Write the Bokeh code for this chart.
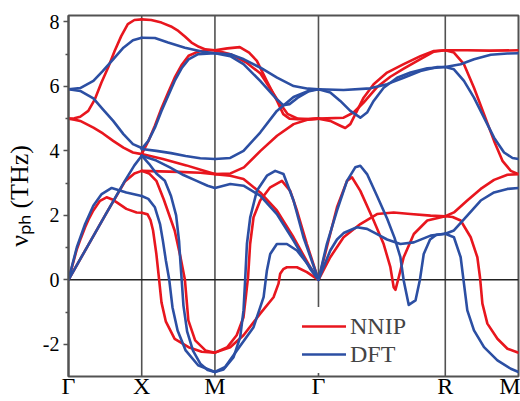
from bokeh.plotting import figure
from bokeh.models import (Span, Legend, LegendItem, FixedTicker, Range1d,
                          CustomJSTickFormatter)
from bokeh.embed import file_html
from bokeh.resources import INLINE

# high-symmetry path (reciprocal-space distance) and labels
K_PTS = [0.0, 0.5, 1.0, 1.7071, 2.5731, 3.0731]
K_LABELS = ["Γ", "X", "M", "Γ", "R", "M"]

# Each band: (fraction along the segment, frequency in THz)
# ---------------- NNIP ----------------
NNIP_GX = [
    ([0, 0.08, 0.16, 0.27, 0.36, 0.45, 0.54, 0.63, 0.72, 0.81, 0.9, 1],
     [5.0, 5.01, 5.06, 5.24, 5.6, 6.12, 6.58, 7.1, 7.56, 7.93, 8.06, 8.08]),
    ([0, 0.08, 0.16, 0.34, 0.47, 0.61, 0.75, 0.88, 1],
     [5.0, 4.97, 4.93, 4.72, 4.54, 4.31, 4.1, 3.95, 3.9]),
    ([0, 0.25, 0.5, 0.77, 0.9, 1],
     [0, 1.0, 2.0, 3.05, 3.3, 3.38]),
    ([0, 0.06, 0.114, 0.17, 0.227, 0.28, 0.339, 0.43, 0.52, 0.59, 0.66, 0.79, 0.93, 1],
     [0, 0.5, 0.95, 1.3, 1.63, 1.9, 2.15, 2.45, 2.56, 2.5, 2.4, 2.2, 2.09, 2.08]),
]
NNIP_XM = [
    ([0, 0.13, 0.27, 0.4, 0.5, 0.59, 0.68, 0.78, 0.87, 1],
     [8.08, 8.06, 7.98, 7.86, 7.72, 7.55, 7.36, 7.23, 7.15, 7.12]),
    ([0, 0.09, 0.18, 0.27, 0.36, 0.45, 0.55, 0.64, 0.77, 0.88, 1],
     [3.9, 4.3, 4.78, 5.32, 5.8, 6.27, 6.68, 6.95, 7.08, 7.12, 7.12]),
    ([0, 0.29, 0.61, 0.85, 1],
     [3.9, 3.75, 3.55, 3.38, 3.28]),
    ([0, 0.5, 0.8, 1],
     [3.38, 3.35, 3.32, 3.28]),
    ([0, 0.1, 0.2, 0.3, 0.45, 0.53, 0.59, 0.637, 0.73, 0.87, 1],
     [3.38, 3.3, 3.07, 2.5, 1.53, 0.7, 0.0, -1.26, -1.88, -2.19, -2.26]),
    ([0, 0.08, 0.12, 0.155, 0.2, 0.238, 0.27, 0.33, 0.45, 0.64, 0.82, 1],
     [2.08, 2.03, 1.85, 1.53, 0.8, 0.0, -0.7, -1.3, -1.83, -2.09, -2.23, -2.26]),
]
NNIP_MG = [
    ([0, 0.12, 0.24, 0.33, 0.405, 0.5, 0.6, 0.66, 0.72, 0.8, 1],
     [7.12, 7.18, 7.22, 7.05, 6.79, 6.17, 5.55, 5.14, 5.0, 4.98, 5.0]),
    ([0, 0.15, 0.3, 0.44, 0.6, 0.7, 0.8, 0.9, 1],
     [7.12, 7.0, 6.75, 6.4, 5.6, 5.15, 5.0, 4.98, 5.0]),
    ([0, 0.15, 0.28, 0.44, 0.6, 0.76, 0.9, 1],
     [3.28, 3.3, 3.49, 4.0, 4.47, 4.83, 4.97, 5.0]),
    ([0, 0.148, 0.276, 0.437, 0.598, 0.759, 0.92, 1],
     [3.28, 3.23, 3.13, 2.71, 2.15, 1.32, 0.39, 0]),
    ([0, 0.12, 0.21, 0.276, 0.302, 0.32, 0.34, 0.373, 0.437, 0.534, 0.647, 0.727, 0.792, 0.888, 1],
     [-2.26, -2.09, -1.72, -1.16, -0.43, 0.08, 1.11, 1.94, 2.46, 2.87, 3.07, 2.76, 2.15, 1.11, 0]),
    ([0, 0.148, 0.276, 0.437, 0.566, 0.614, 0.63, 0.66, 0.695, 0.792, 0.888, 1],
     [-2.26, -2.09, -1.72, -1.05, -0.54, -0.12, 0.19, 0.33, 0.39, 0.39, 0.24, 0]),
]
NNIP_GR = [
    ([0, 0.093, 0.172, 0.211, 0.251, 0.304, 0.356, 0.435, 0.541, 0.672, 0.804, 0.91, 1],
     [5.0, 4.93, 4.78, 4.71, 4.83, 5.24, 5.65, 6.07, 6.43, 6.69, 6.94, 7.1, 7.12]),
    ([0, 0.198, 0.277, 0.356, 0.462, 0.567, 0.672, 0.804, 0.91, 1],
     [5.0, 5.03, 5.19, 5.5, 5.98, 6.3, 6.55, 6.85, 7.08, 7.12]),
    ([0, 0.066, 0.146, 0.225, 0.264, 0.33, 0.435, 0.514, 0.567, 0.593, 0.607, 0.633, 0.672, 0.752, 0.858, 1],
     [0, 1.01, 2.25, 3.07, 3.18, 2.76, 1.84, 1.11, 0.39, -0.23, -0.31, 0.08, 0.7, 1.42, 1.84, 1.97]),
    ([0, 0.093, 0.198, 0.33, 0.462, 0.593, 0.726, 0.884, 1],
     [0, 0.7, 1.32, 1.73, 2.04, 2.09, 2.04, 1.99, 1.97]),
]
NNIP_RM = [
    ([0, 0.3, 0.6, 1],
     [7.12, 7.12, 7.11, 7.12]),
    ([0, 0.118, 0.255, 0.392, 0.529, 0.666, 0.781, 0.895, 1],
     [7.12, 7.05, 6.69, 5.96, 5.14, 4.31, 3.69, 3.38, 3.28]),
    ([0, 0.118, 0.3, 0.484, 0.666, 0.849, 1],
     [1.97, 2.09, 2.46, 2.82, 3.1, 3.26, 3.28]),
    ([0, 0.1, 0.21, 0.347, 0.438, 0.474, 0.507, 0.575, 0.712, 0.849, 1],
     [1.97, 1.95, 1.84, 1.32, 0.7, 0.08, -0.74, -1.36, -1.83, -2.14, -2.26]),
]

# ---------------- DFT ----------------
DFT_GX = [
    ([0, 0.16, 0.34, 0.47, 0.61, 0.75, 0.88, 1],
     [5.91, 5.95, 6.17, 6.48, 6.84, 7.2, 7.43, 7.51]),
    ([0, 0.16, 0.34, 0.47, 0.61, 0.75, 0.88, 1],
     [5.91, 5.86, 5.63, 5.29, 4.93, 4.52, 4.21, 4.09]),
    ([0, 0.25, 0.5, 0.77, 0.9, 1],
     [0, 1.0, 2.0, 3.07, 3.55, 3.85]),
    ([0, 0.114, 0.227, 0.339, 0.453, 0.59, 0.79, 1],
     [0, 1.01, 1.73, 2.3, 2.66, 2.85, 2.71, 2.6]),
]
DFT_XM = [
    ([0, 0.18, 0.36, 0.59, 0.82, 1],
     [7.51, 7.5, 7.36, 7.2, 7.08, 7.03]),
    ([0, 0.09, 0.18, 0.27, 0.36, 0.45, 0.55, 0.64, 0.77, 1],
     [4.06, 4.31, 4.72, 5.24, 5.7, 6.17, 6.58, 6.84, 7.0, 7.03]),
    ([0, 0.2, 0.4, 0.6, 0.8, 1],
     [4.06, 4.0, 3.93, 3.84, 3.77, 3.75]),
    ([0, 0.2, 0.385, 0.57, 0.75, 0.9, 1],
     [3.85, 3.7, 3.49, 3.25, 3.07, 2.92, 2.85]),
    ([0, 0.1, 0.2, 0.316, 0.4, 0.47, 0.51, 0.53, 0.546, 0.57, 0.62, 0.7, 0.8, 0.9, 1],
     [3.85, 3.6, 3.3, 3.07, 2.6, 2.0, 1.2, 0.5, 0.0, -0.8, -1.6, -2.2, -2.6, -2.8, -2.86]),
    ([0, 0.09, 0.18, 0.25, 0.29, 0.33, 0.376, 0.42, 0.49, 0.6, 0.77, 1],
     [2.6, 2.51, 2.25, 1.73, 1.2, 0.6, 0.0, -0.85, -1.57, -2.19, -2.65, -2.86]),
]
DFT_MG = [
    ([0, 0.15, 0.28, 0.44, 0.6, 0.76, 0.9, 1],
     [7.03, 7.0, 6.84, 6.58, 6.27, 6.01, 5.93, 5.91]),
    ([0, 0.148, 0.276, 0.437, 0.598, 0.66, 0.72, 0.8, 0.9, 1],
     [7.03, 6.94, 6.69, 6.17, 5.6, 5.42, 5.45, 5.65, 5.84, 5.91]),
    ([0, 0.148, 0.276, 0.437, 0.598, 0.759, 0.92, 1],
     [3.75, 3.78, 4.0, 4.57, 5.24, 5.67, 5.88, 5.91]),
    ([0, 0.148, 0.276, 0.437, 0.598, 0.759, 0.92, 1],
     [2.85, 2.97, 2.92, 2.61, 2.04, 1.22, 0.34, 0]),
    ([0, 0.083, 0.18, 0.244, 0.276, 0.29, 0.309, 0.341, 0.405, 0.502, 0.582, 0.662, 0.759, 0.855, 1],
     [-2.86, -2.78, -2.4, -1.78, -0.95, -0.12, 1.11, 1.94, 2.76, 3.23, 3.38, 3.28, 2.46, 1.32, 0]),
    ([0, 0.1, 0.212, 0.373, 0.47, 0.502, 0.534, 0.598, 0.695, 0.792, 0.92, 1],
     [-2.86, -2.7, -2.19, -1.47, -0.54, 0.29, 0.8, 1.11, 1.11, 0.91, 0.39, 0]),
]
DFT_GR = [
    ([0, 0.198, 0.409, 0.541, 0.672, 0.804, 0.937, 1],
     [5.91, 5.89, 5.94, 6.07, 6.27, 6.48, 6.6, 6.6]),
    ([0, 0.093, 0.172, 0.251, 0.33, 0.383, 0.435, 0.514, 0.62, 0.726, 0.858, 1],
     [5.91, 5.81, 5.55, 5.24, 5.03, 5.19, 5.55, 5.96, 6.27, 6.43, 6.56, 6.6]),
    ([0, 0.066, 0.146, 0.225, 0.29, 0.33, 0.383, 0.462, 0.541, 0.6, 0.646, 0.672, 0.712, 0.765, 0.8, 0.83, 0.88, 0.93, 1],
     [0, 1.11, 2.15, 3.07, 3.49, 3.54, 3.28, 2.6, 1.9, 1.3, 0.7, -0.02, -0.78, -0.64, 0.0, 0.8, 1.25, 1.4, 1.43]),
    ([0, 0.093, 0.146, 0.198, 0.304, 0.383, 0.462, 0.541, 0.646, 0.752, 0.884, 1],
     [0, 0.91, 1.25, 1.45, 1.63, 1.58, 1.42, 1.25, 1.11, 1.16, 1.37, 1.43]),
]
DFT_RM = [
    ([0, 0.21, 0.393, 0.621, 0.849, 1],
     [6.6, 6.69, 6.84, 6.98, 7.02, 7.03]),
    ([0, 0.118, 0.255, 0.392, 0.529, 0.666, 0.803, 0.918, 1],
     [6.6, 6.53, 6.17, 5.65, 5.03, 4.41, 3.95, 3.78, 3.75]),
    ([0, 0.118, 0.3, 0.484, 0.666, 0.849, 1],
     [1.43, 1.53, 1.99, 2.46, 2.71, 2.82, 2.85]),
    ([0, 0.118, 0.21, 0.255, 0.301, 0.392, 0.529, 0.712, 0.895, 1],
     [1.43, 1.32, 0.7, -0.12, -0.95, -1.57, -2.09, -2.5, -2.76, -2.86]),
]

NNIP = [NNIP_GX, NNIP_XM, NNIP_MG, NNIP_GR, NNIP_RM]
DFT = [DFT_GX, DFT_XM, DFT_MG, DFT_GR, DFT_RM]

Y_TICKS = [-2, 0, 2, 4, 6, 8]
Y_MINOR = [-1, 1, 3, 5, 7]
Y_LO, Y_HI = -3.0, 8.2
Y_TITLE = "ν\u209a\u2095 (THz)"

RED = "#e8161e"
BLUE = "#2c4fa3"
GRAY = "#525252"
SERIF = "Liberation Serif"


def to_lines(segments):
    xs, ys = [], []
    for i, bands in enumerate(segments):
        k0, k1 = K_PTS[i], K_PTS[i + 1]
        for t, v in bands:
            xs.append([k0 + ti * (k1 - k0) for ti in t])
            ys.append(list(v))
    return xs, ys


p = figure(width=520, height=401, output_backend="svg", toolbar_location=None,
           title=None, x_range=Range1d(K_PTS[0], K_PTS[-1]), y_range=Range1d(Y_LO, Y_HI),
           min_border_left=68, min_border_right=2, min_border_top=15, min_border_bottom=25)
p.grid.visible = False
p.outline_line_color = GRAY
p.outline_line_width = 2
p.background_fill_color = "white"
p.border_fill_color = "white"

# ---- y axis ----
yax = p.yaxis[0]
yax.ticker = FixedTicker(ticks=Y_TICKS, minor_ticks=Y_MINOR)
yax.major_label_overrides = {t: str(t) for t in Y_TICKS}
yax.major_tick_out = 5
yax.major_tick_in = 0
yax.minor_tick_out = 3
yax.minor_tick_in = 0
yax.major_tick_line_color = GRAY
yax.minor_tick_line_color = GRAY
yax.major_tick_line_width = 1.5
yax.minor_tick_line_width = 1.5
yax.axis_line_color = GRAY
yax.axis_line_width = 2
yax.major_label_standoff = 4
yax.major_label_text_font = SERIF
yax.major_label_text_font_size = "20px"
yax.major_label_text_color = "black"
yax.axis_label = Y_TITLE
yax.axis_label_text_font = SERIF
yax.axis_label_text_font_size = "26px"
yax.axis_label_text_font_style = "normal"
yax.axis_label_text_color = "black"
yax.axis_label_standoff = 6

# ---- x axis: k-path labels ----
xax = p.xaxis[0]
xax.ticker = FixedTicker(ticks=K_PTS, minor_ticks=[])
xax.formatter = CustomJSTickFormatter(args=dict(kp=K_PTS, names=K_LABELS), code="""
    let best = 0;
    for (let j = 0; j < kp.length; j++) {
        if (Math.abs(kp[j] - tick) < Math.abs(kp[best] - tick)) best = j;
    }
    return names[best];
""")
xax.major_tick_out = 0
xax.major_tick_in = 0
xax.minor_tick_out = 0
xax.minor_tick_in = 0
xax.axis_line_color = None
xax.major_label_standoff = -4
xax.major_label_text_font = SERIF
xax.major_label_text_font_size = "24px"
xax.major_label_text_color = "black"

for k in K_PTS[1:-1]:
    p.add_layout(Span(location=k, dimension="height", line_color=GRAY,
                      line_width=1.6, level="underlay"))
p.add_layout(Span(location=0, dimension="width", line_color="#222222",
                  line_width=1.6, level="underlay"))

nx, ny = to_lines(NNIP)
dx, dy = to_lines(DFT)
r_n = p.multi_line(nx, ny, line_color=RED, line_width=2.6, line_join="round", line_cap="round")
r_d = p.multi_line(dx, dy, line_color=BLUE, line_width=2.6, line_join="round", line_cap="round")

legend = Legend(items=[LegendItem(label="NNIP", renderers=[r_n]),
                       LegendItem(label="DFT", renderers=[r_d])],
                location=(229, 3), orientation="vertical",
                label_text_font=SERIF, label_text_font_size="24px",
                glyph_width=44, glyph_height=28, label_height=28,
                label_standoff=4, padding=5, spacing=0, margin=0,
                border_line_alpha=0, background_fill_color="white",
                background_fill_alpha=1.0)
p.add_layout(legend)

open("out.html", "w").write(file_html(p, INLINE))
